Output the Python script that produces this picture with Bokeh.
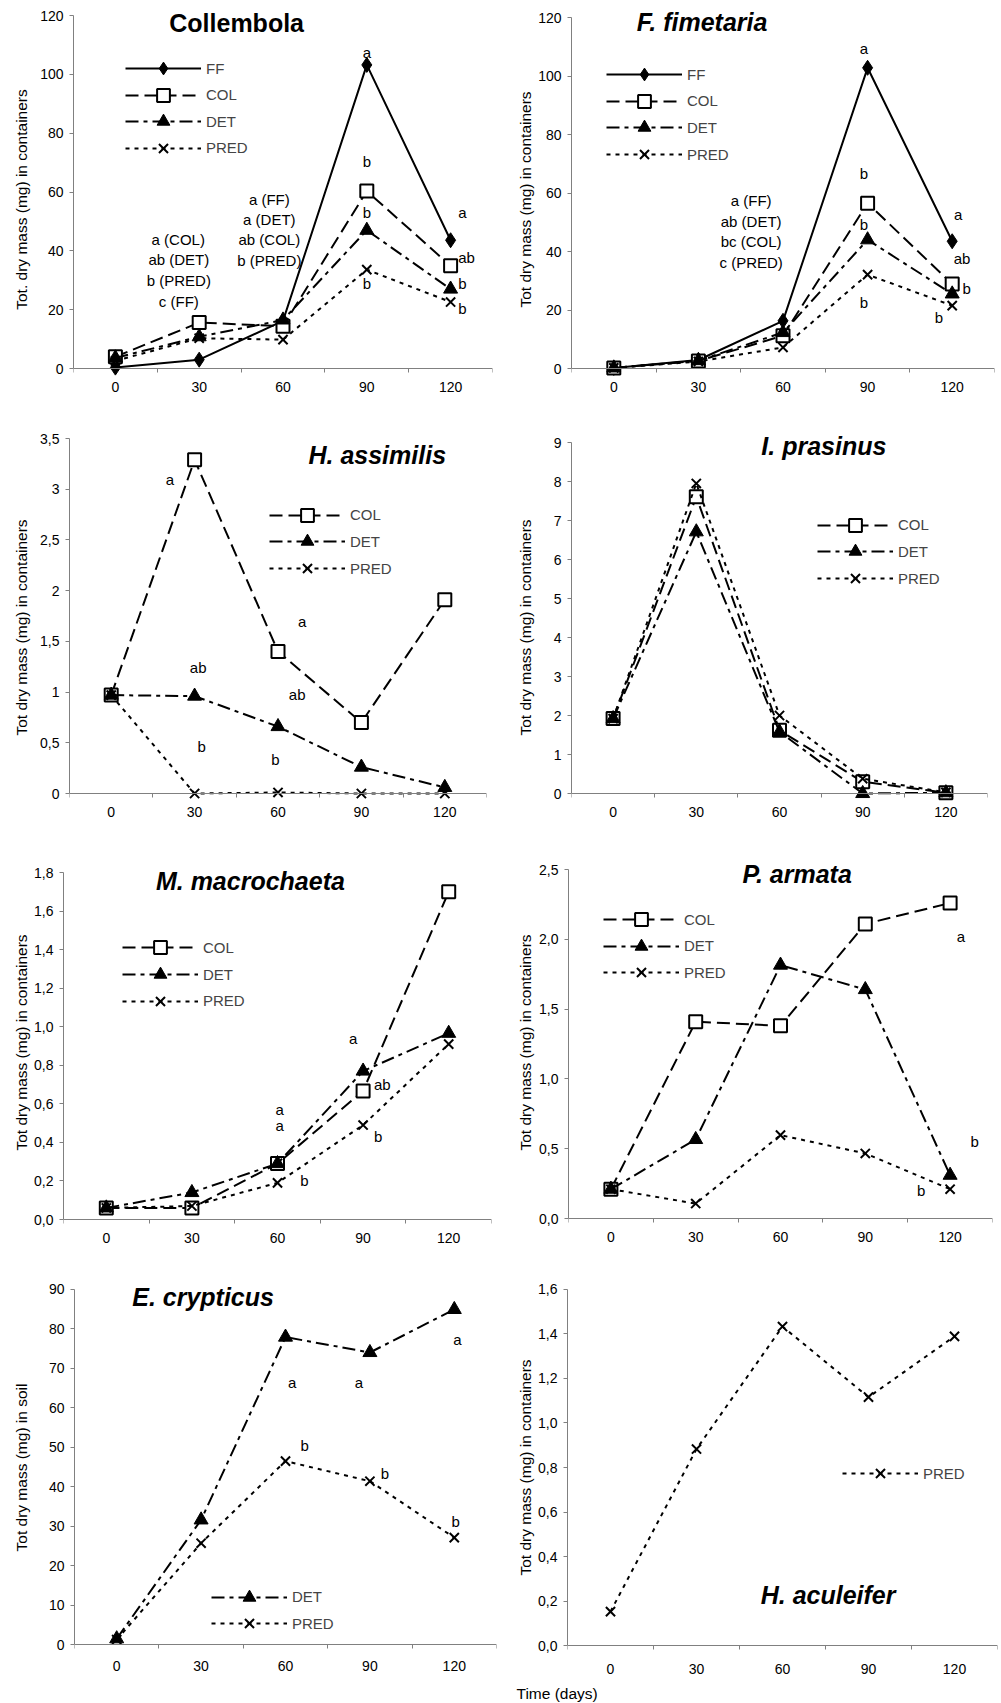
from bokeh.plotting import figure
from bokeh.models import (Range1d, LinearAxis, FixedTicker, Label, Legend, LegendItem,
                          ColumnDataSource, Title)
from bokeh.layouts import column, row
from bokeh.embed import file_html
from bokeh.resources import INLINE
from bokeh.core.properties import value

FONT = "Liberation Sans"

# ---------------- data ----------------
days = [0, 30, 60, 90, 120]
day_edges = [-15, 15, 45, 75, 105, 135]

coll_FF = [0.3, 3.0, 16.2, 103.2, 43.6]
coll_COL = [4.0, 15.6, 14.4, 60.3, 34.9]
coll_DET = [3.6, 10.8, 16.5, 47.0, 27.0]
coll_PRED = [2.6, 10.3, 9.8, 33.6, 22.6]

ffim_FF = [0.2, 2.9, 16.3, 102.8, 43.5]
ffim_COL = [0.2, 2.6, 11.2, 56.5, 28.9]
ffim_DET = [0.2, 2.7, 12.3, 44.0, 25.5]
ffim_PRED = [0.2, 2.4, 7.2, 32.1, 21.5]

hass_COL = [0.97, 3.29, 1.40, 0.70, 1.91]
hass_DET = [0.97, 0.96, 0.66, 0.26, 0.06]
hass_PRED = [0.97, 0.0, 0.01, 0.0, 0.0]

ipra_COL = [1.92, 7.61, 1.62, 0.30, 0.02]
ipra_DET = [1.92, 6.71, 1.58, 0.0, 0.02]
ipra_PRED = [1.92, 7.95, 2.0, 0.38, 0.03]

mmac_COL = [0.06, 0.06, 0.29, 0.667, 1.70]
mmac_DET = [0.06, 0.14, 0.29, 0.77, 0.966]
mmac_PRED = [0.06, 0.07, 0.19, 0.49, 0.91]

parm_COL = [0.21, 1.41, 1.38, 2.11, 2.26]
parm_DET = [0.21, 0.566, 1.815, 1.64, 0.31]
parm_PRED = [0.21, 0.107, 0.597, 0.466, 0.21]

ecry_DET = [1.5, 31.6, 77.9, 74.0, 84.9]
ecry_PRED = [1.3, 25.7, 46.5, 41.4, 27.1]

hacu_PRED = [0.153, 0.883, 1.433, 1.116, 1.389]

# tick labels
ticks_120 = [0, 20, 40, 60, 80, 100, 120]
labels_120 = ["0", "20", "40", "60", "80", "100", "120"]
ticks_35 = [0, 0.5, 1, 1.5, 2, 2.5, 3, 3.5]
labels_35 = ["0", "0,5", "1", "1,5", "2", "2,5", "3", "3,5"]
ticks_9 = [0, 1, 2, 3, 4, 5, 6, 7, 8, 9]
labels_9 = ["0", "1", "2", "3", "4", "5", "6", "7", "8", "9"]
ticks_18 = [0, 0.2, 0.4, 0.6, 0.8, 1.0, 1.2, 1.4, 1.6, 1.8]
labels_18 = ["0,0", "0,2", "0,4", "0,6", "0,8", "1,0", "1,2", "1,4", "1,6", "1,8"]
ticks_25 = [0, 0.5, 1.0, 1.5, 2.0, 2.5]
labels_25 = ["0,0", "0,5", "1,0", "1,5", "2,0", "2,5"]
ticks_90 = [0, 10, 20, 30, 40, 50, 60, 70, 80, 90]
labels_90 = ["0", "10", "20", "30", "40", "50", "60", "70", "80", "90"]
ticks_16 = [0, 0.2, 0.4, 0.6, 0.8, 1.0, 1.2, 1.4, 1.6]
labels_16 = ["0,0", "0,2", "0,4", "0,6", "0,8", "1,0", "1,2", "1,4", "1,6"]

# significance letters (text) and their positions (days, value)
coll_notes = ["a", "b", "b", "b", "a", "ab", "b", "b",
              "a (COL)", "ab (DET)", "b (PRED)", "c (FF)",
              "a (FF)", "a (DET)", "ab (COL)", "b (PRED)"]
coll_notes_x = [90, 90, 90, 90, 124.2, 125.7, 124.2, 124.2, 22.5, 22.7, 22.7, 22.7, 55.1, 55.1, 55.1, 55.1]
coll_notes_y = [107.5, 70.4, 53.1, 29.0, 53.1, 37.8, 29.0, 20.3, 44.0, 37.1, 29.9, 22.9, 57.5, 50.7, 43.7, 36.7]

ffim_notes = ["a", "b", "b", "b", "a", "ab", "b", "b",
              "a (FF)", "ab (DET)", "bc (COL)", "c (PRED)"]
ffim_notes_x = [88.7, 88.7, 88.7, 88.7, 122.1, 123.5, 125.1, 115.3, 48.7, 48.7, 48.7, 48.7]
ffim_notes_y = [109.3, 66.8, 49.2, 22.7, 52.6, 37.5, 27.2, 17.5, 57.4, 50.4, 43.5, 36.3]

hass_notes = ["a", "a", "ab", "ab", "b", "b"]
hass_notes_x = [21.1, 68.7, 31.3, 66.9, 32.5, 59.1]
hass_notes_y = [3.10, 1.70, 1.24, 0.98, 0.46, 0.335]

mmac_notes = ["a", "ab", "b", "a", "a", "b"]
mmac_notes_x = [86.5, 96.7, 95.3, 60.8, 60.8, 69.4]
mmac_notes_y = [0.94, 0.70, 0.433, 0.571, 0.488, 0.204]

parm_notes = ["a", "b", "b"]
parm_notes_x = [123.8, 128.7, 109.8]
parm_notes_y = [2.02, 0.554, 0.198]

ecry_notes = ["a", "a", "a", "b", "b", "b"]
ecry_notes_x = [62.4, 86.1, 121.1, 66.8, 95.3, 120.5]
ecry_notes_y = [66.4, 66.4, 77.2, 50.4, 43.3, 31.2]

# ---------------- styles ----------------
STYLE = {
    "FF": dict(dash="solid", marker="diamond", size=15, fill="black", lw=1),
    "COL": dict(dash="13 6", marker="square", size=13, fill="white", lw=2),
    "DET": dict(dash="13 5 4 5", marker="triangle", size=14, fill="black", lw=1),
    "PRED": dict(dash="4 5", marker="x", size=13, fill="black", lw=2),
}
GLYPH_H = 32
TICK_FS = "14px"
TEXT_FS = "15px"


def make_panel(series, ymax, yticks, ylabels, ytitle, lay, title, title_xy, title_style,
               notes=None, notes_x=None, notes_y=None):
    w, h = lay["w"], lay["h"]
    bl, br, top, H = lay["left"], lay["right"], lay["top"], lay["H"]
    pad, tp = lay["pad"], lay["tp"]
    y0 = -ymax * pad / H
    y1 = ymax * (1 + tp / H)
    p = figure(width=w, height=h, x_range=Range1d(-15, 135), y_range=Range1d(y0, y1),
               x_axis_type=None, y_axis_type=None, toolbar_location=None,
               output_backend="svg", min_border_left=bl, min_border_right=br,
               min_border_top=top - tp, min_border_bottom=max(0, h - top - H - pad))
    p.outline_line_color = None
    p.background_fill_color = "white"
    p.border_fill_color = "white"

    # x axis drawn at value 0, separator ticks between the sampling days
    xa = LinearAxis(ticker=FixedTicker(ticks=days, minor_ticks=day_edges), fixed_location=0)
    xa.major_tick_out = 4
    xa.major_tick_in = 0
    xa.major_tick_line_color = None
    xa.minor_tick_out = 4
    xa.minor_tick_in = 0
    xa.axis_line_color = "#808080"
    xa.minor_tick_line_color = "#808080"
    xa.major_label_text_font = FONT
    xa.major_label_text_font_size = TICK_FS
    xa.major_label_text_color = "black"
    xa.major_label_standoff = lay["xlab_so"]
    p.add_layout(xa, "below")

    ya = LinearAxis(ticker=FixedTicker(ticks=yticks, minor_ticks=[]), bounds=(0, ymax))
    ya.major_label_overrides = dict(zip(yticks, ylabels))
    ya.major_tick_out = 4
    ya.major_tick_in = 0
    ya.minor_tick_out = 0
    ya.minor_tick_in = 0
    ya.axis_line_color = "#808080"
    ya.major_tick_line_color = "#808080"
    ya.major_label_text_font = FONT
    ya.major_label_text_font_size = TICK_FS
    ya.major_label_text_color = "black"
    ya.major_label_standoff = 6
    p.add_layout(ya, "left")

    # y-axis title on its own bare axis
    yl = LinearAxis(ticker=FixedTicker(ticks=[], minor_ticks=[]), bounds=(0, ymax))
    yl.axis_line_color = None
    yl.major_tick_line_color = None
    yl.minor_tick_line_color = None
    yl.major_tick_out = 0
    yl.major_tick_in = 0
    yl.minor_tick_out = 0
    yl.minor_tick_in = 0
    yl.major_label_standoff = 0
    yl.axis_label = ytitle
    yl.axis_label_text_font = FONT
    yl.axis_label_text_font_size = "15.5px"
    yl.axis_label_text_font_style = "normal"
    yl.axis_label_text_color = "black"
    yl.axis_label_standoff = lay["ylab_so"]
    p.add_layout(yl, "left")

    lx, c0, pitch = lay["legend"]
    for i, (name, vals) in enumerate(series):
        st = STYLE[name]
        src = ColumnDataSource(dict(x=days, y=vals))
        lr = p.line("x", "y", source=src, line_color="black", line_width=2,
                    line_dash=st["dash"])
        sr = p.scatter("x", "y", source=src, marker=st["marker"], size=st["size"],
                       fill_color=st["fill"], line_color="black", line_width=st["lw"])
        cy = c0 - i * pitch + pad
        leg = Legend(items=[LegendItem(label=name, renderers=[lr, sr])],
                     location=(lx, cy - GLYPH_H / 2), glyph_width=76,
                     glyph_height=GLYPH_H, spacing=0, label_standoff=5,
                     padding=0, margin=0, border_line_color=None,
                     background_fill_alpha=0, label_text_font=FONT,
                     label_text_font_size=TEXT_FS, label_height=20)
        p.add_layout(leg)

    if notes:
        nsrc = ColumnDataSource(dict(x=notes_x, y=notes_y, t=notes))
        p.text("x", "y", text="t", source=nsrc, text_font=value(FONT),
               text_font_size=TEXT_FS, text_align="center", text_baseline="middle",
               text_color="black")

    p.add_layout(Label(x=title_xy[0], y=title_xy[1], text=title, text_font=FONT,
                       text_font_size="25px", text_font_style=title_style,
                       text_align="center", text_baseline="middle", text_color="black"))
    return p


# legend = (left of sample line from frame left, first row centre above zero line, row pitch)
# frames in one row share the same top border (top - tp) and bottom border (h - top - H - pad)
LAY = {
    "coll": dict(w=500, h=400, left=73, right=8, top=15, H=353, pad=30, tp=15, xlab_so=9,
                 ylab_so=8, legend=(52, 299.7, 26.5)),
    "ffim": dict(w=500, h=400, left=71, right=6, top=17, H=351, pad=30, tp=17, xlab_so=9,
                 ylab_so=2, legend=(35, 294, 26.7)),
    "hass": dict(w=500, h=423, left=69, right=14, top=38, H=355, pad=30, tp=7, xlab_so=9,
                 ylab_so=8, legend=(200, 278.3, 26.7)),
    "ipra": dict(w=500, h=423, left=71, right=13, top=42, H=351, pad=30, tp=11, xlab_so=9,
                 ylab_so=17, legend=(246, 268.3, 26.7)),
    "mmac": dict(w=500, h=427, left=63, right=9, top=49, H=347, pad=30, tp=37, xlab_so=9,
                 ylab_so=2, legend=(59, 271.6, 26.7)),
    "parm": dict(w=500, h=427, left=68, right=8, top=46, H=349, pad=31, tp=34, xlab_so=9,
                 ylab_so=3, legend=(35, 299, 26.7)),
    "ecry": dict(w=500, h=452, left=74, right=4, top=39, H=357, pad=37, tp=36, xlab_so=12,
                 ylab_so=16, legend=(137, 47.4, 26.7)),
    "hacu": dict(w=500, h=452, left=67, right=3, top=39, H=358, pad=36, tp=36, xlab_so=14,
                 ylab_so=2, legend=(275, 171.7, 26.7)),
}

YT = "Tot dry mass (mg) in containers"

p1 = make_panel([("FF", coll_FF), ("COL", coll_COL), ("DET", coll_DET), ("PRED", coll_PRED)],
                120, ticks_120, labels_120, "Tot. dry mass (mg) in containers", LAY["coll"],
                "Collembola", (43.4, 117.5), "bold", coll_notes, coll_notes_x, coll_notes_y)
p2 = make_panel([("FF", ffim_FF), ("COL", ffim_COL), ("DET", ffim_DET), ("PRED", ffim_PRED)],
                120, ticks_120, labels_120, YT, LAY["ffim"],
                "F. fimetaria", (31.3, 118.3), "bold italic", ffim_notes, ffim_notes_x, ffim_notes_y)
p3 = make_panel([("COL", hass_COL), ("DET", hass_DET), ("PRED", hass_PRED)],
                3.5, ticks_35, labels_35, YT, LAY["hass"],
                "H. assimilis", (95.7, 3.335), "bold italic", hass_notes, hass_notes_x, hass_notes_y)
p4 = make_panel([("COL", ipra_COL), ("DET", ipra_DET), ("PRED", ipra_PRED)],
                9, ticks_9, labels_9, YT, LAY["ipra"],
                "I. prasinus", (76, 8.9), "bold italic")
p5 = make_panel([("COL", mmac_COL), ("DET", mmac_DET), ("PRED", mmac_PRED)],
                1.8, ticks_18, labels_18, YT, LAY["mmac"],
                "M. macrochaeta", (50.5, 1.757), "bold italic", mmac_notes, mmac_notes_x, mmac_notes_y)
p6 = make_panel([("COL", parm_COL), ("DET", parm_DET), ("PRED", parm_PRED)],
                2.5, ticks_25, labels_25, YT, LAY["parm"],
                "P. armata", (65.9, 2.47), "bold italic", parm_notes, parm_notes_x, parm_notes_y)
p7 = make_panel([("DET", ecry_DET), ("PRED", ecry_PRED)],
                90, ticks_90, labels_90, "Tot dry mass (mg) in soil", LAY["ecry"],
                "E. crypticus", (30.7, 88.1), "bold italic", ecry_notes, ecry_notes_x, ecry_notes_y)
p8 = make_panel([("PRED", hacu_PRED)],
                1.6, ticks_16, labels_16, YT, LAY["hacu"],
                "H. aculeifer", (75.9, 0.226), "bold italic")
p8.add_layout(Title(text="Time (days)", align="left", offset=-51, text_font=FONT,
                    text_font_size="15.5px", text_font_style="normal", text_color="black",
                    standoff=2), "below")

layout = column(row(p1, p2), row(p3, p4), row(p5, p6), row(p7, p8))

with open("out.html", "w") as f:
    f.write(file_html(layout, INLINE))
